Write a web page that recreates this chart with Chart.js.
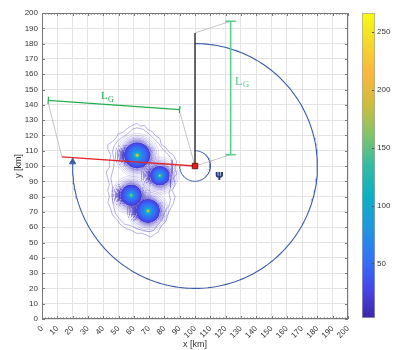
<!DOCTYPE html>
<html><head><meta charset="utf-8">
<script src="https://cdn.jsdelivr.net/npm/chart.js@4.4.1/dist/chart.umd.min.js"></script>
<style>
html,body{margin:0;padding:0;background:#fff;}
#wrap{position:relative;width:393px;height:350px;overflow:hidden;}
#main{position:absolute;left:0;top:0;}
#cbar{position:absolute;left:355px;top:0;}
</style></head><body>
<div id="wrap"><canvas id="main" width="393" height="350"></canvas><canvas id="cbar" width="38" height="350"></canvas></div>
<script>
// ---------------- data ----------------
const axisTicks = [0,10,20,30,40,50,60,70,80,90,100,110,120,130,140,150,160,170,180,190,200];
const cbTicks = [50,100,150,200,250];
const cbRange = [3, 266];

// four intensity peaks (x, y in km), disc radius (km) and peak value
const peakX = [62.2, 77.0, 58.3, 69.3];
const peakY = [107.0, 93.7, 80.9, 70.6];
const peakR = [8.6, 6.5, 7.0, 7.8];
const peakMax = [258, 232, 222, 252];

// outer contour envelopes of the cluster
const envOuterX = [62,64,67,69,72,74,77,78,81,83,86,88,87,88,86,87,85,87,86,84,82,81,78,76,73,71,68,65,62,58,55,51,49,46,45,43,44,43,44,43,42,44,44,45,43,43,46,48,50,53,55,58,60,62];
const envOuterY = [128,126,126.5,124,122.5,120,118,114,112,109,107,103,99,95,92,88,84,80,76,72,68,64,61,57,55,53.5,55,56,56,58,59,62,65,68,72,76,80,84,88,92,96,99,103,107,111,114,116,118,121,122,124,126,127,128];
const envInnerX = [62,66,70,73,76,79,82,85,85,85,84,84,83,84,83,80,79,76,73,70,66,62,58,54,51,48,47,46,46,46,45,46,47,47,46,47,50,53,56,59,62];
const envInnerY = [125,124,121,118,115,111,108,104,99,95,91,86,82,78,74,70,66,62,58,57,58,59,61,62,65,69,73,77,82,87,92,96,100,105,109,113,117,119,121,124,125];

// track circle and heading arc
const orbitCenter = [100, 100];
const orbitR = 80;
const orbitArc = [90, -184];
const psiR = 10;
const psiArc = [90, -180];
const arrowPt = [20, 102.6];

// lines
const redLineX = [13, 100];   const redLineY = [106, 100];
const blackLineX = [100, 100]; const blackLineY = [100, 187];
const dimLeftX = [4.1, 90.0];  const dimLeftY = [142.9, 136.9];
const dimRightX = [123.3, 123.3]; const dimRightY = [107.4, 194.6];
const extLeftX = [[13, 4.2], [100, 90.3]]; const extLeftY = [[106, 140.6], [100, 134.5]];
const extRightX = [[100, 123.3], [100, 123.3]]; const extRightY = [[187, 194.6], [100, 107.4]];

// text annotations
const noteText = ['L', 'L', 'ψ'];
const noteSub = ['G', 'G', ''];
const noteX = [42.7, 125.9, 113.0];
const noteY = [145.5, 155.3, 94.0];

// ---------------- helpers ----------------
const parula = [[0,[62,38,168]],[0.1,[70,72,236]],[0.2,[47,118,247]],[0.3,[30,152,222]],[0.4,[12,177,196]],[0.5,[50,187,162]],[0.6,[129,196,106]],[0.7,[205,189,58]],[0.8,[251,182,61]],[0.9,[245,215,44]],[1,[249,251,14]]];
function parulaColor(t){
  t = Math.max(0, Math.min(1, t));
  for (let k = 1; k < parula.length; k++) {
    if (t <= parula[k][0]) {
      const [t0,c0] = parula[k-1], [t1,c1] = parula[k];
      const f = (t - t0) / (t1 - t0);
      const c = c0.map((v,j)=>Math.round(v + (c1[j]-v)*f));
      return `rgb(${c[0]},${c[1]},${c[2]})`;
    }
  }
  return 'rgb(249,251,14)';
}
function pts(xs, ys){ return xs.map((x,i)=>({x, y: ys[i]})); }
function arcPts(cx, cy, r, a0, a1, n){
  const out = [];
  for (let k = 0; k <= n; k++) {
    const a = (a0 + (a1 - a0) * k / n) * Math.PI / 180;
    out.push({x: cx + r*Math.cos(a), y: cy + r*Math.sin(a)});
  }
  return out;
}
function rpx(chart, r){
  const s = chart.scales.x;
  return Math.abs(s.getPixelForValue(r) - s.getPixelForValue(0));
}
const discStops = [[0,1.0],[0.05,0.8],[0.12,0.56],[0.22,0.38],[0.38,0.26],[0.65,0.18],[0.85,0.11],[1,0.05]];
function discFill(c){
  const ch = c.chart, i = c.dataIndex;
  if (!ch.scales || !ch.scales.x) return 'rgb(47,118,247)';
  const px = ch.scales.x.getPixelForValue(peakX[i]);
  const py = ch.scales.y.getPixelForValue(peakY[i]);
  const r = rpx(ch, peakR[i]);
  if (!isFinite(px) || !isFinite(py) || !(r > 0)) return 'rgb(47,118,247)';
  const g = ch.ctx.createRadialGradient(px, py, 0, px, py, r);
  const tc = (peakMax[i] - cbRange[0]) / (cbRange[1] - cbRange[0]);
  discStops.forEach(([s,w]) => g.addColorStop(s, parulaColor(w * tc)));
  return g;
}
function lineDS(data, color, width, order, extra){
  return Object.assign({type:'scatter', data, showLine:true, borderColor:color, backgroundColor:color,
    borderWidth:width, pointRadius:0, fill:false, tension:0, order}, extra||{});
}

// ---------------- datasets ----------------
const datasets = [];
// contour envelopes
datasets.push(lineDS(pts(envOuterX, envOuterY), 'rgba(80,70,200,0.7)', 0.6, 9));
datasets.push(lineDS(pts(envInnerX, envInnerY), 'rgba(80,70,200,0.7)', 0.6, 9));
// contour rings hugging each disc
const ringGap = [0.35, 0.8, 1.3, 1.9, 2.6, 3.4, 4.4, 5.6];
peakX.forEach((px, i) => {
  ringGap.forEach((d, k) => {
    datasets.push(lineDS(arcPts(px, peakY[i], peakR[i] + d, 0, 360, 72),
      `rgba(72,55,195,${0.85 - k*0.08})`, 0.6, 8));
  });
});
// filled discs
datasets.push({type:'scatter', order:6, data: pts(peakX, peakY),
  pointRadius: c => rpx(c.chart, peakR[c.dataIndex]),
  pointBackgroundColor: discFill, pointBorderWidth: 0, pointBorderColor:'rgba(0,0,0,0)'});
// circles
datasets.push(lineDS(arcPts(orbitCenter[0], orbitCenter[1], orbitR, orbitArc[0], orbitArc[1], 200), '#3b5ca8', 1.1, 5));
datasets.push(lineDS(arcPts(orbitCenter[0], orbitCenter[1], psiR, psiArc[0], psiArc[1], 90), '#3b5ca8', 1.0, 5));
// grey extension lines
for (let k = 0; k < 2; k++) {
  datasets.push(lineDS(pts(extLeftX[k], extLeftY[k]), '#b5b5b5', 0.8, 4));
  datasets.push(lineDS(pts(extRightX[k], extRightY[k]), '#b5b5b5', 0.8, 4));
}
// green dimension bars with end caps
datasets.push(lineDS(pts(dimLeftX, dimLeftY), '#22ae4c', 1.2, 3,
  {pointRadius:3.6, pointStyle:'line', pointRotation:94, pointBorderColor:'#22ae4c', pointBorderWidth:1.2}));
datasets.push(lineDS(pts(dimRightX, dimRightY), '#5bcf8e', 1.6, 3,
  {pointRadius:5.2, pointStyle:'line', pointRotation:0, pointBorderColor:'#5bcf8e', pointBorderWidth:1.6}));
// red and black lines
datasets.push(lineDS(pts(redLineX, redLineY), '#e2262b', 1.3, 2));
datasets.push(lineDS(pts(blackLineX, blackLineY), '#1c1c1c', 1.3, 2));
// arrow head
datasets.push({type:'scatter', order:1, data:[{x:arrowPt[0], y:arrowPt[1]}], pointStyle:'triangle',
  pointRadius:3.6, pointBackgroundColor:'#3b5ca8', pointBorderColor:'#3b5ca8', pointBorderWidth:1});
// red square at the origin of the lines
datasets.push({type:'scatter', order:0, data:[{x:redLineX[1], y:redLineY[1]}], pointStyle:'rect',
  pointRadius:3.9, pointBackgroundColor:'#dc1f1f', pointBorderColor:'#6a0000', pointBorderWidth:0.8});

// ---------------- plugins ----------------
const framePlugin = {
  id:'frame',
  afterDatasetsDraw(chart){
    const {ctx, chartArea:a, scales:{x, y}} = chart;
    ctx.save();
    ctx.strokeStyle = '#777'; ctx.lineWidth = 1;
    ctx.strokeRect(Math.round(a.left)+0.5, Math.round(a.top)+0.5, Math.round(a.right-a.left)-1, Math.round(a.bottom-a.top)-1);
    ctx.beginPath();
    for (let v = 0; v <= 200; v += 2) {
      const px = Math.round(x.getPixelForValue(v)) + 0.5;
      const L = (v % 10 === 0) ? 3 : 1.6;
      ctx.moveTo(px, a.bottom); ctx.lineTo(px, a.bottom - L);
      ctx.moveTo(px, a.top); ctx.lineTo(px, a.top + L);
    }
    axisTicks.forEach(v => {
      const py = Math.round(y.getPixelForValue(v)) + 0.5;
      ctx.moveTo(a.left, py); ctx.lineTo(a.left + 3, py);
      ctx.moveTo(a.right, py); ctx.lineTo(a.right - 3, py);
    });
    ctx.stroke();
    ctx.restore();
  }
};
const notePlugin = {
  id:'notes',
  afterDatasetsDraw(chart){
    const {ctx, scales:{x, y}} = chart;
    const styles = [
      {color:'#22ae4c', size:11, sub:8, align:'center', font:'"Liberation Serif","DejaVu Serif",serif', weight:'normal'},
      {color:'#5bcf8e', size:13, sub:9, align:'left', font:'"Liberation Serif","DejaVu Serif",serif', weight:'normal'},
      {color:'#223a80', size:11, sub:8, align:'left', font:'"DejaVu Sans",sans-serif', weight:'bold'}
    ];
    ctx.save();
    noteText.forEach((t, i) => {
      const st = styles[i];
      const px = x.getPixelForValue(noteX[i]), py = y.getPixelForValue(noteY[i]);
      ctx.font = `${st.weight} ${st.size}px ${st.font}`;
      const w1 = ctx.measureText(t).width;
      ctx.font = `${st.weight} ${st.sub}px ${st.font}`;
      const w2 = noteSub[i] ? ctx.measureText(noteSub[i]).width : 0;
      let x0 = st.align === 'center' ? px - (w1 + w2)/2 : px;
      ctx.fillStyle = st.color; ctx.textAlign = 'left'; ctx.textBaseline = 'middle';
      ctx.font = `${st.weight} ${st.size}px ${st.font}`;
      ctx.fillText(t, x0, py);
      if (noteSub[i]) {
        ctx.font = `${st.weight} ${st.sub}px ${st.font}`;
        ctx.fillText(noteSub[i], x0 + w1 + 0.3, py + st.size*0.28);
      }
    });
    ctx.restore();
  }
};

const tickFont = {family:'"Liberation Sans", Arial, sans-serif', size:8};
const titleFont = {family:'"Liberation Sans", Arial, sans-serif', size:9};

new Chart(document.getElementById('main'), {
  type:'scatter',
  data:{datasets},
  options:{
    responsive:false, animation:false, events:[],
    layout:{padding:{top:13, right:45, left:0, bottom:0}},
    plugins:{legend:{display:false}, tooltip:{enabled:false}},
    scales:{
      x:{type:'linear', min:0, max:200,
        afterBuildTicks: s => { s.ticks = axisTicks.map(v => ({value:v})); },
        afterFit: s => { s.height = 31; },
        ticks:{autoSkip:false, minRotation:45, maxRotation:45, padding:5, font:tickFont, color:'#333'},
        grid:{color:'#e3e3e3', lineWidth:1, drawTicks:false},
        border:{display:false},
        title:{display:true, text:'x [km]', font:titleFont, color:'#333', padding:{top:0, bottom:0}}
      },
      y:{type:'linear', min:0, max:200,
        afterBuildTicks: s => { s.ticks = axisTicks.map(v => ({value:v})); },
        afterFit: s => { s.width = 42; },
        ticks:{autoSkip:false, padding:4, font:tickFont, color:'#333'},
        grid:{color:'#e3e3e3', lineWidth:1, drawTicks:false},
        border:{display:false},
        title:{display:true, text:'y [km]', font:titleFont, color:'#333', padding:{top:13, bottom:0}}
      }
    }
  },
  plugins:[framePlugin, notePlugin]
});

// ---------------- colorbar ----------------
function cbFill(c){
  const ch = c.chart, a = ch.chartArea;
  if (!a || !ch.scales.y) return 'rgb(47,118,247)';
  const y0 = ch.scales.y.getPixelForValue(cbRange[0]), y1 = ch.scales.y.getPixelForValue(cbRange[1]);
  if (!isFinite(y0) || !isFinite(y1)) return 'rgb(47,118,247)';
  const g = ch.ctx.createLinearGradient(0, y0, 0, y1);
  parula.forEach(([t]) => g.addColorStop(t, parulaColor(t)));
  return g;
}
const cbTickPlugin = {
  id:'cbticks',
  afterDatasetsDraw(chart){
    const {ctx, chartArea:a, scales:{y}} = chart;
    ctx.save(); ctx.strokeStyle = '#555'; ctx.lineWidth = 1; ctx.beginPath();
    cbTicks.forEach(v => { const py = Math.round(y.getPixelForValue(v)) + 0.5; ctx.moveTo(a.right - 1, py); ctx.lineTo(a.right - 3, py); });
    ctx.stroke(); ctx.restore();
  }
};
new Chart(document.getElementById('cbar'), {
  type:'bar',
  data:{labels:['c'], datasets:[{data:[cbRange], backgroundColor:cbFill, borderColor:'#a3a3a3', borderWidth:1,
    borderSkipped:false, barPercentage:1, categoryPercentage:1}]},
  options:{
    responsive:false, animation:false, events:[],
    layout:{padding:{left:7, top:13, bottom:32, right:0}},
    plugins:{legend:{display:false}, tooltip:{enabled:false}},
    scales:{
      x:{display:false},
      y:{position:'right', min:cbRange[0], max:cbRange[1],
        afterBuildTicks: s => { s.ticks = cbTicks.map(v => ({value:v})); },
        afterFit: s => { s.width = 18; },
        grid:{display:false, drawTicks:false}, border:{display:false},
        ticks:{padding:2, font:tickFont, color:'#333'}
      }
    }
  },
  plugins:[cbTickPlugin]
});
</script>
</body></html>
